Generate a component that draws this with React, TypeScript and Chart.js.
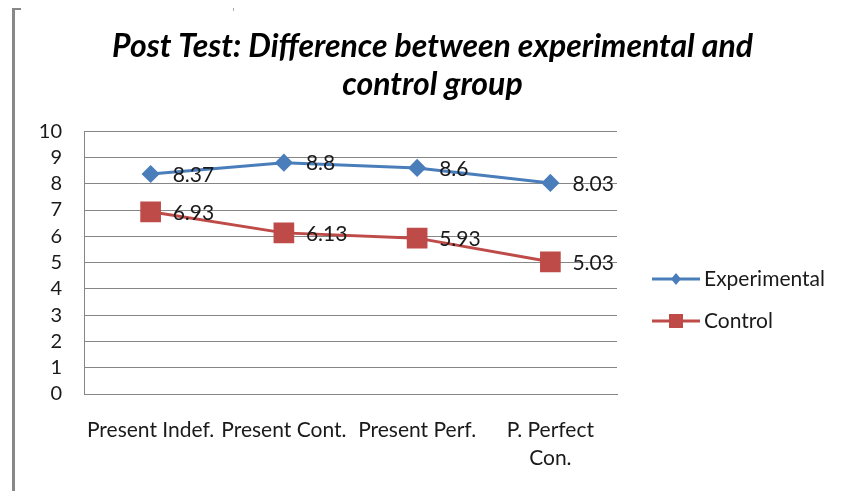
import React, { useEffect, useRef } from "react";
import { Chart, registerables } from "chart.js";

Chart.register(...registerables);

const categories: (string | string[])[] = [
  "Present Indef.",
  "Present Cont.",
  "Present Perf.",
  ["P. Perfect", "Con."],
];
const experimental = [8.37, 8.8, 8.6, 8.03];
const control = [6.93, 6.13, 5.93, 5.03];
const seriesNames = ["Experimental", "Control"];
const titleLines = ["Post Test: Difference between experimental and", "control group"];

const BLUE = "#4a7ebb";
const RED = "#be4b48";
const FONT = "Lato, 'Open Sans', sans-serif";

const valueLabels = {
  id: "valueLabels",
  afterDatasetsDraw(chart: any) {
    const ctx = chart.ctx;
    ctx.save();
    ctx.font = `21px ${FONT}`;
    ctx.fillStyle = "#1a1a1a";
    ctx.textBaseline = "middle";
    ctx.textAlign = "left";
    chart.data.datasets.forEach((ds: any, i: number) => {
      const meta = chart.getDatasetMeta(i);
      meta.data.forEach((pt: any, j: number) => {
        ctx.fillText(String(ds.data[j]), pt.x + 22, pt.y + 1);
      });
    });
    ctx.restore();
  },
};

const customLegend = {
  id: "customLegend",
  afterDraw(chart: any) {
    const ctx = chart.ctx;
    const x0 = chart.chartArea.right + 35;
    const ys = [279, 321];
    ctx.save();
    ctx.font = `21px ${FONT}`;
    ctx.textBaseline = "middle";
    ctx.textAlign = "left";
    chart.data.datasets.forEach((ds: any, i: number) => {
      const y = ys[i];
      ctx.strokeStyle = ds.borderColor;
      ctx.lineWidth = 3;
      ctx.beginPath();
      ctx.moveTo(x0, y);
      ctx.lineTo(x0 + 48, y);
      ctx.stroke();
      ctx.fillStyle = ds.pointBackgroundColor;
      const cx = x0 + 24;
      if (ds.pointStyle === "rectRot") {
        ctx.beginPath();
        ctx.moveTo(cx, y - 6);
        ctx.lineTo(cx + 5, y);
        ctx.lineTo(cx, y + 6);
        ctx.lineTo(cx - 5, y);
        ctx.closePath();
        ctx.fill();
      } else {
        ctx.fillRect(cx - 7, y - 7, 14, 14);
      }
      ctx.fillStyle = "#1a1a1a";
      ctx.fillText(ds.label, x0 + 52, y);
    });
    ctx.restore();
  },
};

export default function App() {
  const ref = useRef<HTMLCanvasElement | null>(null);
  useEffect(() => {
    if (!ref.current) return;
    const chart = new Chart(ref.current, {
      type: "line",
      data: {
        labels: categories,
        datasets: [
          {
            label: seriesNames[0],
            data: experimental,
            borderColor: BLUE,
            backgroundColor: BLUE,
            pointBackgroundColor: BLUE,
            pointBorderColor: BLUE,
            pointStyle: "rectRot",
            pointRadius: 7,
            borderWidth: 3,
            tension: 0,
          },
          {
            label: seriesNames[1],
            data: control,
            borderColor: RED,
            backgroundColor: RED,
            pointBackgroundColor: RED,
            pointBorderColor: RED,
            pointStyle: "rect",
            pointRadius: 12.5,
            borderWidth: 3,
            tension: 0,
          },
        ],
      },
      options: {
        animation: false,
        responsive: false,
        layout: { padding: { left: 24, right: 0, top: 0, bottom: 0 } },
        plugins: {
          legend: { display: false },
          tooltip: { enabled: false },
          title: {
            display: true,
            text: titleLines,
            color: "#000",
            font: { family: FONT, size: 32, style: "italic", weight: "bold", lineHeight: 1.19 },
            padding: { top: 28, bottom: 27 },
          },
        },
        scales: {
          x: {
            offset: true,
            afterFit: (s: any) => {
              s.height = 97;
            },
            grid: { display: false, drawTicks: false },
            border: { display: true, color: "#868686", width: 1 },
            ticks: {
              color: "#1a1a1a",
              font: { family: FONT, size: 21, lineHeight: 1.33 },
              padding: 22,
              maxRotation: 0,
              autoSkip: false,
            },
          },
          y: {
            min: 0,
            max: 10,
            afterFit: (s: any) => {
              s.width = 60;
            },
            grid: { color: "#868686", lineWidth: 1, drawTicks: false },
            border: { display: true, color: "#868686", width: 1 },
            ticks: {
              stepSize: 1,
              autoSkip: false,
              color: "#1a1a1a",
              font: { family: FONT, size: 20, lineHeight: 1 },
              padding: 22,
            },
          },
          yR: {
            position: "right",
            display: true,
            afterFit: (s: any) => {
              s.width = 224;
            },
            grid: { display: false, drawTicks: false },
            border: { display: false },
            ticks: { display: false },
          },
        },
      },
      plugins: [valueLabels, customLegend],
    });
    return () => chart.destroy();
  }, []);
  return (
    <div style={{ position: "absolute", left: 0, top: 0, width: 841, height: 491, background: "#fff" }}>
      <div style={{ position: "absolute", left: 12, top: 8, width: 3, height: 483, background: "#888" }} />
      <div style={{ position: "absolute", left: 12, top: 8, width: 9, height: 2, background: "#888" }} />
      <div style={{ position: "absolute", left: 233, top: 8, width: 1, height: 3, background: "#aaa" }} />
      <canvas ref={ref} width={841} height={491} style={{ position: "absolute", left: 0, top: 0 }} />
    </div>
  );
}
